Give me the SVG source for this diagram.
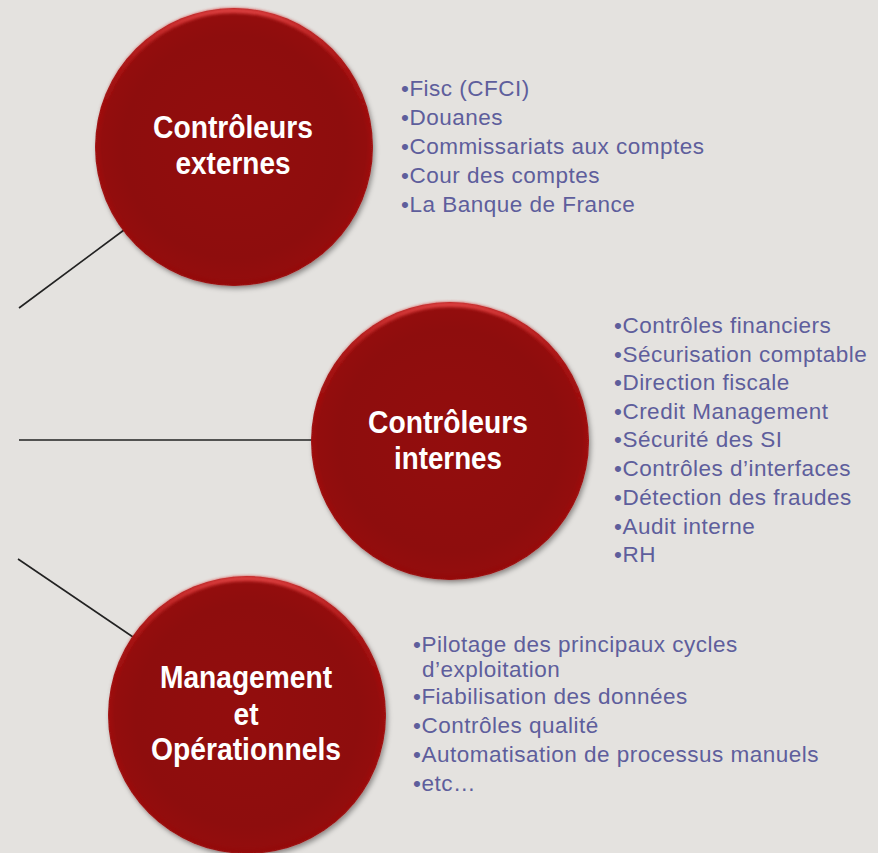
<svg xmlns="http://www.w3.org/2000/svg" width="878" height="853" viewBox="0 0 878 853">
  <defs>
    <radialGradient id="ballFill" cx="50%" cy="50%" r="50%">
      <stop offset="0" stop-color="#930b0b"/>
      <stop offset="0.8" stop-color="#8e0909"/>
      <stop offset="0.95" stop-color="#930b0b"/>
      <stop offset="1" stop-color="#a01313"/>
    </radialGradient>
    <linearGradient id="rim" x1="0" y1="0" x2="0" y2="1">
      <stop offset="0" stop-color="#e04242" stop-opacity="0.95"/>
      <stop offset="0.2" stop-color="#c02020" stop-opacity="0.45"/>
      <stop offset="0.45" stop-color="#a01010" stop-opacity="0"/>
      <stop offset="1" stop-color="#7a0000" stop-opacity="0.25"/>
    </linearGradient>
    <filter id="shadow" x="-10%" y="-10%" width="125%" height="125%">
      <feDropShadow dx="2" dy="3" stdDeviation="2.5" flood-color="#000" flood-opacity="0.35"/>
    </filter>
    <filter id="soft" x="-5%" y="-5%" width="110%" height="110%">
      <feGaussianBlur stdDeviation="1.5"/>
    </filter>
  </defs>
  <style>
    .ball { fill: url(#ballFill); filter: url(#shadow); }
    .rim { fill: none; stroke: url(#rim); stroke-width: 5; filter: url(#soft); }
    .title { font-family: "Liberation Sans", Arial, sans-serif; font-weight: bold; font-size: 31px; fill: #ffffff; text-anchor: middle; }
    .item { font-family: "Liberation Sans", Arial, sans-serif; font-size: 22.5px; letter-spacing: 0.5px; fill: #5e5e9c; }
    .conn { stroke: #222222; stroke-width: 1.6; fill: none; }
  </style>
  <rect width="878" height="853" fill="#e4e2df"/>

  <g id="connectors">
    <line class="conn" x1="19" y1="308" x2="124" y2="230"/>
    <line class="conn" x1="19" y1="440" x2="312" y2="440"/>
    <line class="conn" x1="18" y1="559" x2="133" y2="637"/>
  </g>

  <g id="node-externes">
    <circle class="ball" cx="234" cy="147" r="139"/>
    <circle class="rim" cx="234" cy="147" r="136.5"/>
    <text class="title" x="233" y="138" textLength="160" lengthAdjust="spacingAndGlyphs">Contrôleurs</text>
    <text class="title" x="233" y="174" textLength="115" lengthAdjust="spacingAndGlyphs">externes</text>
  </g>

  <g id="node-internes">
    <circle class="ball" cx="450" cy="441" r="139"/>
    <circle class="rim" cx="450" cy="441" r="136.5"/>
    <text class="title" x="448" y="433" textLength="160" lengthAdjust="spacingAndGlyphs">Contrôleurs</text>
    <text class="title" x="448" y="469" textLength="108" lengthAdjust="spacingAndGlyphs">internes</text>
  </g>

  <g id="node-management">
    <circle class="ball" cx="247" cy="715" r="139"/>
    <circle class="rim" cx="247" cy="715" r="136.5"/>
    <text class="title" x="246" y="688" textLength="172" lengthAdjust="spacingAndGlyphs">Management</text>
    <text class="title" x="246" y="725" textLength="25" lengthAdjust="spacingAndGlyphs">et</text>
    <text class="title" x="246" y="760" textLength="190" lengthAdjust="spacingAndGlyphs">Opérationnels</text>
  </g>

  <g id="list-externes">
    <text class="item" x="401" y="96">•Fisc (CFCI)</text>
    <text class="item" x="401" y="125">•Douanes</text>
    <text class="item" x="401" y="154">•Commissariats aux comptes</text>
    <text class="item" x="401" y="183">•Cour des comptes</text>
    <text class="item" x="401" y="212">•La Banque de France</text>
  </g>

  <g id="list-internes">
    <text class="item" x="614" y="333">•Contrôles financiers</text>
    <text class="item" x="614" y="362">•Sécurisation comptable</text>
    <text class="item" x="614" y="390">•Direction fiscale</text>
    <text class="item" x="614" y="419">•Credit Management</text>
    <text class="item" x="614" y="447">•Sécurité des SI</text>
    <text class="item" x="614" y="476">•Contrôles d’interfaces</text>
    <text class="item" x="614" y="505">•Détection des fraudes</text>
    <text class="item" x="614" y="534">•Audit interne</text>
    <text class="item" x="614" y="562">•RH</text>
  </g>

  <g id="list-management">
    <text class="item" x="413" y="652">•Pilotage des principaux cycles</text>
    <text class="item" x="422" y="677">d’exploitation</text>
    <text class="item" x="413" y="704">•Fiabilisation des données</text>
    <text class="item" x="413" y="733">•Contrôles qualité</text>
    <text class="item" x="413" y="762">•Automatisation de processus manuels</text>
    <text class="item" x="413" y="791">•etc…</text>
  </g>
</svg>
